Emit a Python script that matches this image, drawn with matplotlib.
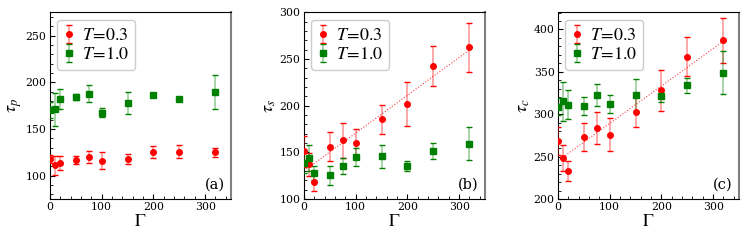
import numpy as np
import matplotlib
matplotlib.use("Agg")
import matplotlib.pyplot as plt
from matplotlib.ticker import AutoMinorLocator

plt.rcParams['font.family'] = 'DejaVu Serif'
plt.rcParams['mathtext.fontset'] = 'stix'

# Gamma values (shared by all panels)
gamma = [0, 10, 20, 50, 75, 100, 150, 200, 250, 320]

# (a) tau_p
tp_03 = [118, 111, 114, 117, 120, 116, 118, 125.7, 125.7, 125]
tp_03_err = [4, 10, 7.5, 4.5, 6.3, 9, 5, 6.6, 7, 5]
tp_10 = [170.4, 171.4, 182, 184.6, 188, 167.5, 178, 187, 182.5, 190]
tp_10_err = [9, 17.7, 11, 3.5, 9, 5, 12, 2, 1.5, 18]

# (b) tau_s
ts_03 = [151, 137, 118.6, 156, 163, 159.6, 185.4, 202, 243, 262.5]
ts_03_err = [17, 12.5, 10, 15.7, 18.6, 16, 15.7, 24, 21.6, 26]
ts_10 = [139, 144, 128, 125.4, 135.4, 145, 145.7, 135.4, 151.4, 159.3]
ts_10_err = [11.6, 14, 7.5, 10, 9, 9.5, 12.5, 5.4, 8.6, 17.7]

# (c) tau_c
tc_03 = [268.5, 248.5, 233, 273.6, 284, 276, 302.5, 328, 368, 387]
tc_03_err = [17, 15.6, 12.3, 16.6, 19, 19, 17.8, 24.7, 23, 26.5]
tc_10 = [309, 315.5, 311, 310, 323, 312, 322.5, 321.7, 334, 349]
tc_10_err = [10, 23, 17, 10.7, 13, 10.7, 19, 6.8, 9.2, 25]

panels = [
    (tp_03, tp_03_err, tp_10, tp_10_err, r'$\tau_p$', (75, 275), [100, 150, 200, 250], '(a)', False),
    (ts_03, ts_03_err, ts_10, ts_10_err, r'$\tau_s$', (100, 300), [100, 150, 200, 250, 300], '(b)', True),
    (tc_03, tc_03_err, tc_10, tc_10_err, r'$\tau_c$', (200, 420), [200, 250, 300, 350, 400], '(c)', True),
]
lefts = [50, 304, 558]

fig = plt.figure(figsize=(7.47, 2.43), dpi=100)
W, H = 747, 243
for (y3, e3, y1, e1, ylab, ylim, yt, tag, fit), lx in zip(panels, lefts):
    ax = fig.add_axes([lx / W, 1 - 199 / H, 181 / W, (199 - 12.5) / H])

    def draw(y, e, color, marker, label):
        line, caps, bars = ax.errorbar(gamma, y, yerr=e, fmt=marker, color=color,
                                       ms=4, capsize=2.5, elinewidth=1.2,
                                       capthick=1.0, label=label, zorder=3)
        for b in bars:
            b.set_alpha(0.4)

    draw(y3, e3, '#ff0000', 'o', r'$T\!=\!0.3$')
    draw(y1, e1, '#008000', 's', r'$T\!=\!1.0$')

    if fit:
        p = np.polyfit(gamma, y3, 1)
        xf = np.linspace(0, 320, 50)
        ax.plot(xf, np.polyval(p, xf), ':', color='#ff4040', lw=0.8, zorder=2)

    ax.set_xlim(0, 350)
    ax.set_ylim(*ylim)
    ax.set_xticks([0, 100, 200, 300])
    ax.set_yticks(yt)
    ax.xaxis.set_minor_locator(AutoMinorLocator(5))
    ax.yaxis.set_minor_locator(AutoMinorLocator(5))
    ax.tick_params(which='both', direction='in', top=False, right=False, labelsize=7.8, pad=2.5)
    ax.tick_params(which='major', length=3.5)
    ax.tick_params(which='minor', length=2)
    ax.spines['right'].set_color('0.5')
    ax.spines['right'].set_linewidth(1.5)
    ax.set_xlabel(r'$\Gamma$', fontsize=13, labelpad=0)
    ax.set_ylabel(ylab, fontsize=13, labelpad=1)
    ax.text(0.965, 0.04, tag, transform=ax.transAxes, ha='right', va='bottom', fontsize=10.5)
    leg = ax.legend(loc='upper left', fontsize=13, handlelength=0.55,
                    handletextpad=0.45, borderpad=0.35, labelspacing=0.08,
                    borderaxespad=0.4, fancybox=True, framealpha=1, edgecolor='0.8')

fig.savefig('out.png', dpi=100)
